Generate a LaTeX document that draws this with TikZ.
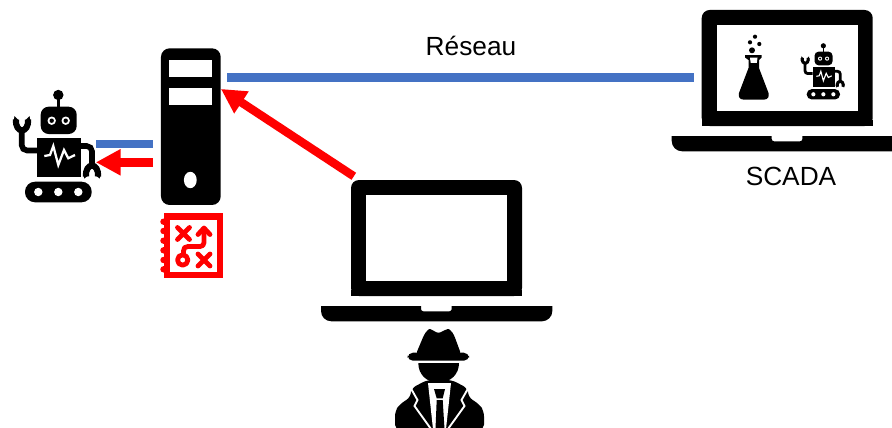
\documentclass[tikz,border=0pt]{standalone}
\usepackage{fontspec}
\setmainfont{Liberation Sans}
\usetikzlibrary{arrows.meta}
\definecolor{netblue}{HTML}{4472C4}
\definecolor{alertred}{HTML}{FF0000}
\tikzset{
  netlink/.style={draw=netblue,line width=6.4pt},
  attack/.style={draw=alertred,line width=6.3pt,-{Triangle[length=18.5pt,width=18.5pt]},shorten >=-0.1pt},
  label/.style={font=\fontsize{19.7pt}{24pt}\selectfont,text=black,inner sep=0pt},
  solid black/.style={fill=black,draw=none},
  iconred/.style={draw=alertred,line cap=round,line join=round},
}
\newcommand{\robotdraw}[1]{%
  \fill (58.3,95) circle[radius=5.2];
  \fill (56.6,95) rectangle (60,108);
  \fill[rounded corners=#1*6pt] (40.7,106.7) rectangle (76.7,134);
  \foreach \ex in {51.7,65.7}{
    \fill[white] (\ex,120.7) circle[radius=4.2];
    \fill (\ex,120.7) circle[radius=2.2];
  }
  \fill (36.7,138.3) rectangle (81,177.3);
  \draw[white,line width=#1*1.7pt,line join=miter] (44.3,156)--(50,155)--(53.3,146)--(58.3,165)--(64,150)--(68.3,158.3)--(75,155);
  % left arm and claw
  \draw[line width=#1*4.2pt,rounded corners=#1*4pt] (37,150.5)--(21.7,150.5)--(21.7,130);
  \draw[line width=#1*4.6pt] (16,119.5) .. controls (15,134) and (29,134) .. (28,119.5);
  \fill (13,125) -- (14.5,116) -- (18.5,120) -- cycle;
  \fill (31,125) -- (29.5,116) -- (25.5,120) -- cycle;
  % right arm and claw
  \draw[line width=#1*4.2pt,rounded corners=#1*4pt] (80,146)--(92,146)--(92,166);
  \draw[line width=#1*4.6pt] (86,176.5) .. controls (85,162) and (99,162) .. (98,176.5);
  \fill (83,171) -- (84.2,178.5) -- (88.5,175.5) -- cycle;
  \fill (101,171) -- (99.8,178.5) -- (95.5,175.5) -- cycle;
  % tracks
  \fill[rounded corners=#1*7.5pt] (25,181.7) rectangle (91.7,202.3);
  \foreach \wx in {38.3,58.3,78.3}{\fill[white] (\wx,192) circle[radius=4.2];}
}
\newcommand{\laptopdraw}{%
  \fill[rounded corners=6pt] (351,296) -- (351,180) -- (522,180) -- (522,296) -- cycle;
  \fill (351,290) rectangle (522,296);
  \fill[white] (366.3,195.3) rectangle (507,281);
  \fill (321,306) -- (421,306) -- (421,309) arc[start angle=180,end angle=90,radius=2.3] -- (449.4,311.3) arc[start angle=90,end angle=0,radius=2.3] -- (451.7,306) -- (552.3,306) -- (552.3,311) arc[start angle=0,end angle=90,radius=10.3] -- (331.3,321.3) arc[start angle=90,end angle=180,radius=10.3] -- cycle;
}
\begin{document}
\begin{tikzpicture}[x=0.75pt,y=-0.75pt]
\useasboundingbox (0,0) rectangle (892,428);
\clip (0,0) rectangle (892,428);
\fill[white] (0,0) rectangle (892,428);

% robot
\robotdraw{1}

% server
\node[solid black,rounded corners=6.5pt,minimum width=44.8pt,minimum height=117.5pt,inner sep=0pt] (server) at (190.85,126.65) {};
\fill[white] (169,60) rectangle (212.3,76.7);
\fill[white] (169,87.7) rectangle (212.3,104.7);
\fill[white] (190.3,180) ellipse[x radius=6.4,y radius=8.2];

% red playbook
\fill[alertred] (164,213.3) rectangle (223,278.3);
\fill[white] (170,220) rectangle (216.7,271.7);
\foreach \by in {221.7,231,240.7,250.3,260,269.3}{\fill[alertred] (163.5,\by) circle[radius=3.2];}
\begin{scope}[iconred,line width=3.6pt]
  \draw (177.5,227.5)--(189.5,239.5) (189.5,227.5)--(177.5,239.5);
  \draw (198,254)--(210,266) (210,254)--(198,266);
  \draw (182.7,260) circle[radius=5.2];
  \draw (183.5,254) -- (183.5,251) .. controls (183.5,248) and (185,246.5) .. (188,246.5) -- (200,246.5) .. controls (202.5,246.5) and (204,245) .. (204,242.5) -- (204,229);
  \draw (198,234.5)--(204,228)--(210,234.5);
\end{scope}

% attacker laptop
\laptopdraw

% SCADA laptop
\begin{scope}[shift={(350.7,-170)}]
\laptopdraw
\end{scope}

% flask
\fill (755,36.7) circle[radius=2.1] (750,42.3) circle[radius=2.1] (759.3,44) circle[radius=2.1] (752,50.3) circle[radius=3];
\fill[line join=round] (745,55.2) -- (761.7,55.2) -- (761.7,57.5) -- (759,60) -- (759,68) -- (768.5,93) .. controls (769.5,97) and (767.5,99.5) .. (764.5,99.5) -- (743,99.5) .. controls (740,99.5) and (738,97) .. (739,93) -- (748.5,68) -- (748.5,60) -- (745,57.5) -- cycle;
\fill[white] (750,57.7) -- (757.5,57.7) -- (756.8,63) -- (750.7,63) -- cycle;

% small robot on screen
\begin{scope}[shift={(794.2,-1.7)},scale=0.5]
\robotdraw{0.5}
\end{scope}

% attacker figure
\fill[rounded corners=2pt] (416,354) -- (424,335) -- (427,330.5) .. controls (430,328.5) and (434,331) .. (438.5,333.5) .. controls (443,331) and (448,328.5) .. (451,330.5) -- (454,335) -- (461,354) -- cycle;
\fill[rounded corners=3.9pt] (407.7,352.7) rectangle (469,360.7);
\fill (418.3,363) .. controls (418.3,374) and (426,382.5) .. (438.6,382.5) .. controls (451,382.5) and (459,374) .. (459,363) -- cycle;
\fill[rounded corners=4pt] (395,430) -- (395,411) -- (400,404) -- (411,397) -- (411,388.5) -- (427,380) -- (452,380) -- (468,388.5) -- (468,397) -- (479,404) -- (484,411) -- (484,430) -- cycle;
\draw[white,line width=1.4pt,line join=miter] (411,388.5) -- (417.5,400) -- (414.5,406) -- (431,429);
\draw[white,line width=1.4pt,line join=miter] (468,388.5) -- (461.5,400) -- (464.5,406) -- (448,429);
\fill[white] (428,383) -- (451,383) -- (446,429) -- (433,429) -- cycle;
\fill (434,389) -- (445,389) -- (442.7,398.3) -- (436.7,398.3) -- cycle;
\fill (436.7,400) -- (442.7,400) -- (444.5,429) -- (435.5,429) -- cycle;

% connectors
\coordinate (robotBlue) at (96,144.2);
\coordinate (serverBlue) at (153,144.2);
\coordinate (serverRed) at (153,162.3);
\coordinate (robotRed) at (96,162.3);
\coordinate (netLeft) at (227,77.7);
\coordinate (netRight) at (694,77.7);
\coordinate (attackerOut) at (353.8,176.3);
\coordinate (serverIn) at (221,89);
\draw[netlink] (robotBlue) -- (serverBlue);
\draw[attack] (serverRed) -- (robotRed);
\draw[netlink] (netLeft) -- (netRight);
\draw[attack] (attackerOut) -- (serverIn);

% labels
\node[label] (reseau) at (471,45.8) {Réseau};
\node[label] (scada) at (791,176.3) {SCADA};
\end{tikzpicture}
\end{document}
